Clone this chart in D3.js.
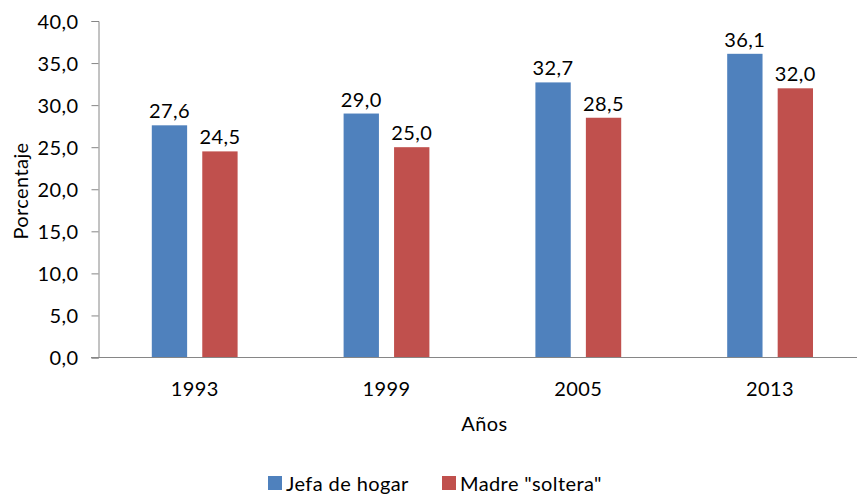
<!DOCTYPE html>
<html>
<head>
<meta charset="utf-8">
<script src="https://cdn.jsdelivr.net/npm/d3@7"></script>
<style>
  body { margin: 0; background: #fff; }
  text { font-family: Lato, "Open Sans", sans-serif; fill: #000; letter-spacing: 0.4px; }
</style>
</head>
<body>
<div id="chart"></div>
<script>
var years = ["1993", "1999", "2005", "2013"];
var series = ["Jefa de hogar", "Madre \"soltera\""];
var jefa = [27.6, 29.0, 32.7, 36.1];
var madre = [24.5, 25.0, 28.5, 32.0];
var yTicks = [0, 5, 10, 15, 20, 25, 30, 35, 40];
var colors = ["#4F81BD", "#C0504D"];

var w = 857;
var h = 498;
var fs = "20px";
var fmt = d3.format(".1f");
var comma = (v) => fmt(v).replace(".", ",");

var svg = d3
  .select("#chart")
  .append("svg")
  .attr("width", w)
  .attr("height", h);

var x0 = d3.scaleBand().domain(years).range([98.8, 866]);
var x1 = d3
  .scaleBand()
  .domain(series)
  .range([0, x0.bandwidth()])
  .paddingInner(0.3)
  .paddingOuter(1.05);
var y = d3.scaleLinear().domain([0, 40]).range([357.5, 21]);

var rows = years.map((yr, i) => ({ year: yr, vals: [jefa[i], madre[i]] }));

// y axis
var yAxis = svg
  .append("g")
  .attr("transform", "translate(98.5,0)")
  .call(
    d3.axisLeft(y).tickValues(yTicks).tickSize(7).tickPadding(13).tickFormat(comma)
  );
yAxis.selectAll("line,path").attr("stroke", "#868686");
yAxis.selectAll("text").style("font-size", fs).attr("dy", "0.35em");

// bars
var groups = svg
  .append("g")
  .selectAll("g")
  .data(rows)
  .enter()
  .append("g")
  .attr("transform", (d) => "translate(" + x0(d.year) + ",0)");

groups
  .selectAll("rect")
  .data((d) => d.vals.map((v, j) => ({ s: series[j], v: v, c: colors[j] })))
  .enter()
  .append("rect")
  .attr("x", (d) => x1(d.s))
  .attr("width", x1.bandwidth())
  .attr("y", (d) => y(d.v))
  .attr("height", (d) => y(0) - y(d.v))
  .attr("fill", (d) => d.c);

groups
  .selectAll("text")
  .data((d) => d.vals.map((v, j) => ({ s: series[j], v: v })))
  .enter()
  .append("text")
  .attr("x", (d) => x1(d.s) + x1.bandwidth() / 2)
  .attr("y", (d) => y(d.v) - 7)
  .attr("text-anchor", "middle")
  .style("font-size", fs)
  .text((d) => comma(d.v));

// x axis
var xAxis = svg
  .append("g")
  .attr("transform", "translate(0,357.5)")
  .call(d3.axisBottom(x0).tickSize(0).tickPadding(24));
xAxis.select("path").attr("d", "M91,0H866").attr("stroke", "#868686");
xAxis.selectAll("text").style("font-size", fs);

// titles
svg
  .append("text")
  .attr("x", 484.5)
  .attr("y", 431)
  .attr("text-anchor", "middle")
  .style("font-size", fs)
  .text("Años");

svg
  .append("text")
  .attr("transform", "translate(28,191) rotate(-90)")
  .attr("text-anchor", "middle")
  .style("font-size", fs)
  .text("Porcentaje");

// legend
var legX = [268, 442];
var legend = svg
  .append("g")
  .selectAll("g")
  .data(series)
  .enter()
  .append("g")
  .attr("transform", (d, i) => "translate(" + legX[i] + ",476)");
legend
  .append("rect")
  .attr("width", 14)
  .attr("height", 14)
  .attr("fill", (d, i) => colors[i]);
legend
  .append("text")
  .attr("x", 18)
  .attr("y", 14.5)
  .style("font-size", fs)
  .text((d) => d);
</script>
</body>
</html>
